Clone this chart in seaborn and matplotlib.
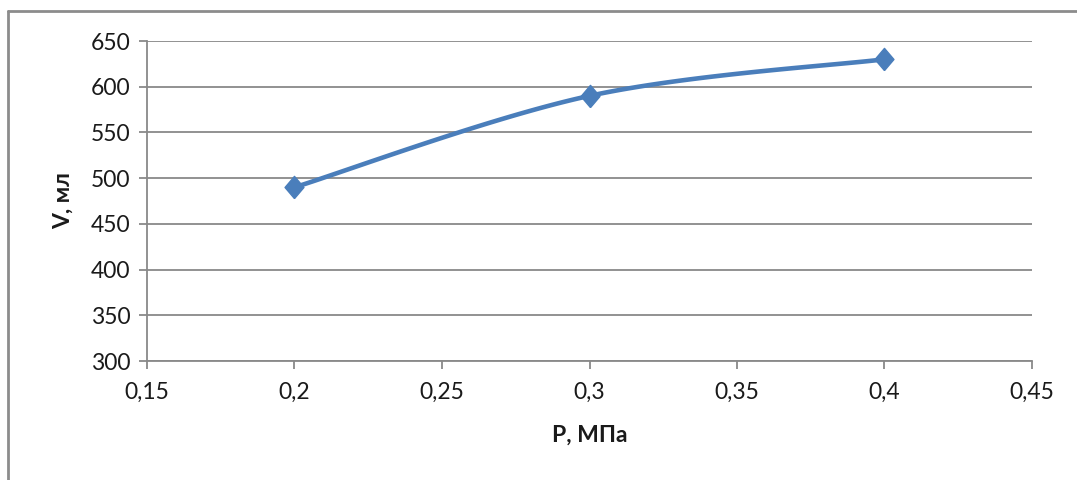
import numpy as np
import pandas as pd
import matplotlib
matplotlib.use("Agg")
import matplotlib.pyplot as plt
from matplotlib.lines import Line2D
from matplotlib.ticker import FuncFormatter
import seaborn as sns

# Data
pressure = [0.2, 0.3, 0.4]
volume = [490, 590, 630]
x_ticks = [0.15, 0.2, 0.25, 0.3, 0.35, 0.4, 0.45]
y_ticks = [300, 350, 400, 450, 500, 550, 600, 650]
x_label = "P, МПа"
y_label = "V, мл"

sns.set_theme(style="white")
plt.rcParams['font.family'] = ['Lato', 'DejaVu Sans']

LINE_COLOR = "#4A7EBB"
GRID_COLOR = "#898989"
TEXT_COLOR = "#1a1a1a"

# Excel-like smoothing (Catmull-Rom Bezier) computed from the data points
def smooth(xs, ys, n=60):
    P = np.column_stack([xs, ys]).astype(float)
    ext = np.vstack([P[0], P, P[-1]])
    out = []
    for i in range(len(P) - 1):
        p0, p1 = ext[i + 1], ext[i + 2]
        c1 = p0 + (ext[i + 2] - ext[i]) / 6.0
        c2 = p1 - (ext[i + 3] - ext[i + 1]) / 6.0
        t = np.linspace(0, 1, n)[:, None]
        seg = ((1 - t) ** 3) * p0 + 3 * ((1 - t) ** 2) * t * c1 + 3 * (1 - t) * t ** 2 * c2 + t ** 3 * p1
        out.append(seg if i == 0 else seg[1:])
    return np.vstack(out)

curve = smooth(pressure, volume)
curve_df = pd.DataFrame({"P": curve[:, 0], "V": curve[:, 1]})
pts_df = pd.DataFrame({"P": pressure, "V": volume})

fig = plt.figure(figsize=(10.77, 4.80), dpi=100)
ax = fig.add_axes([147 / 1077, 1 - 361 / 480, (1032 - 147) / 1077, (361 - 41) / 480])

sns.lineplot(data=curve_df, x="P", y="V", sort=False, ax=ax, color=LINE_COLOR,
             linewidth=3.3, zorder=3)
diamond = [(0, -1), (0.85, 0), (0, 1), (-0.85, 0), (0, -1)]
ax.plot(pts_df["P"], pts_df["V"], linestyle="none", marker=diamond, markersize=16,
        color=LINE_COLOR, markeredgecolor=LINE_COLOR, zorder=4, clip_on=False)

ax.set_xlim(0.15, 0.45)
ax.set_ylim(300, 650)
ax.set_xticks(x_ticks)
ax.set_yticks(y_ticks)
fmt = FuncFormatter(lambda v, p: f"{v:g}".replace(".", ","))
ax.xaxis.set_major_formatter(fmt)
ax.yaxis.set_major_formatter(fmt)

ax.grid(axis="y", color=GRID_COLOR, linewidth=1.3)
ax.grid(axis="x", visible=False)
for s in ["top", "right"]:
    ax.spines[s].set_visible(False)
for s in ["left", "bottom"]:
    ax.spines[s].set_color(GRID_COLOR)
    ax.spines[s].set_linewidth(1.3)

ax.tick_params(axis="both", which="major", direction="out", length=6, width=1.3,
               color=GRID_COLOR, labelsize=16.5, labelcolor=TEXT_COLOR)
ax.tick_params(axis="y", pad=6)
ax.tick_params(axis="x", pad=9)
ax.xaxis.set_ticks_position("bottom")
ax.yaxis.set_ticks_position("left")

ax.set_xlabel(x_label, fontsize=16.5, fontweight="bold", color=TEXT_COLOR, labelpad=16)
ax.set_ylabel(y_label, fontsize=16.5, fontweight="bold", color=TEXT_COLOR, labelpad=12)

# outer chart border (left and top visible)
fig.add_artist(Line2D([8 / 1077, 8 / 1077], [0, 1 - 11 / 480], transform=fig.transFigure,
                      color="#8c8c8c", linewidth=2))
fig.add_artist(Line2D([8 / 1077, 1], [1 - 11 / 480, 1 - 11 / 480], transform=fig.transFigure,
                      color="#8c8c8c", linewidth=2))

fig.savefig("out.png", dpi=100, facecolor="white")
